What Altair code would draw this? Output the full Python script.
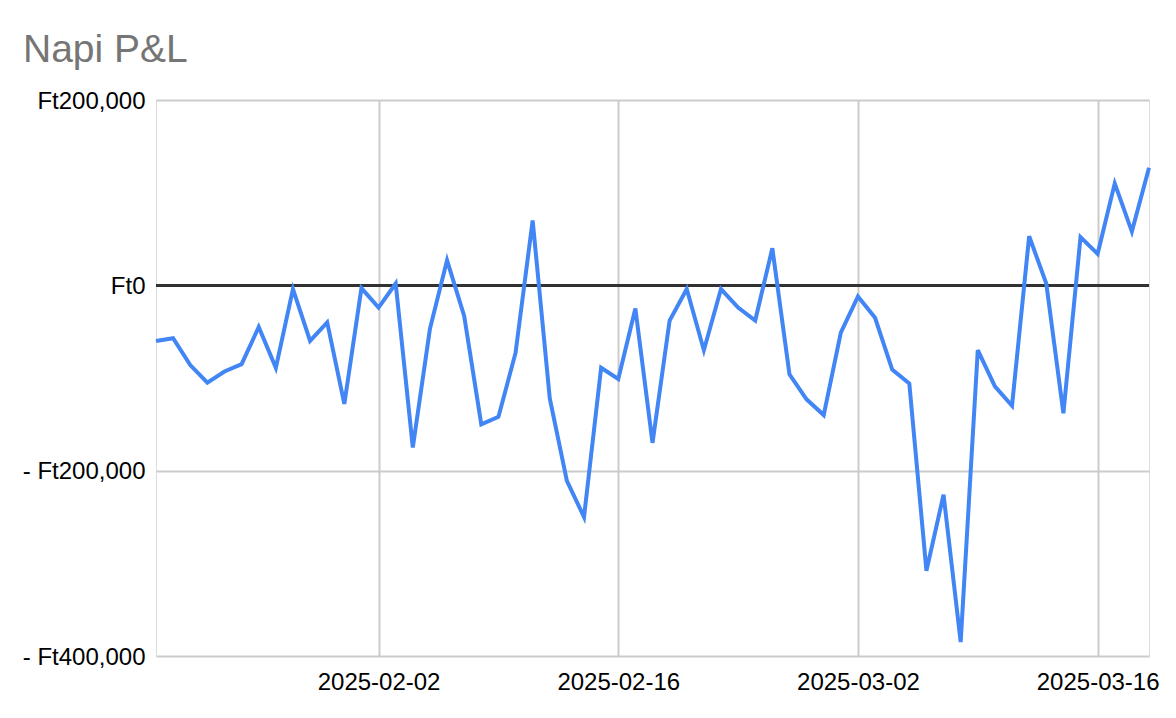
import altair as alt
import pandas as pd

FONT = "Liberation Sans"

# Daily dates (2025-01-20 .. 2025-03-19)
dates = pd.date_range("2025-01-20", "2025-03-19", freq="D").strftime("%Y-%m-%d").tolist()

# Daily P&L in forint
pnl = [
    -60000, -57000, -86000, -105000, -93000, -85000, -45000, -89000, -4000, -60000,
    -40000, -128000,                                   # Jan 20 - Jan 31
    -3000, -24000, 2000, -175000, -47000, 27000, -33000, -150000, -142000, -73000,
    70000, -122000, -211000, -250000, -89000, -101000, -25000, -170000, -38000, -4000,
    -70000, -4000, -24000, -38000, 40000, -96000, -123000, -140000,   # Feb
    -51000, -12000, -35000, -91000, -106000, -308000, -226000, -385000, -70000, -109000,
    -130000, 53000, 2000, -138000, 52000, 34000, 110000, 58000, 127000,  # Mar 1 - Mar 19
]

y_ticks = [-400000, -200000, 0, 200000]
x_ticks = [(2025, 2, 2), (2025, 2, 16), (2025, 3, 2), (2025, 3, 16)]

df = pd.DataFrame({"date": dates, "pnl": pnl})

x_enc = alt.X(
    "date:T",
    scale=alt.Scale(
        type="utc",
        domain=[alt.DateTime(year=2025, month=1, date=20, utc=True),
                alt.DateTime(year=2025, month=3, date=19, utc=True)],
        nice=False,
    ),
    axis=alt.Axis(
        values=[alt.DateTime(year=a, month=b, date=c, utc=True) for a, b, c in x_ticks],
        format="%Y-%m-%d",
        title=None,
        domain=False,
        ticks=False,
        grid=True,
        gridColor="#cccccc",
        gridWidth=2,
        labelFont=FONT,
        labelFontSize=24,
        labelColor="#000000",
        labelPadding=14,
    ),
)

y_enc = alt.Y(
    "pnl:Q",
    scale=alt.Scale(domain=[-400000, 200000], nice=False, zero=False),
    axis=alt.Axis(
        values=y_ticks,
        labelExpr="datum.value < 0 ? '- Ft' + format(-datum.value, ',') : 'Ft' + format(datum.value, ',')",
        title=None,
        domain=False,
        ticks=False,
        grid=True,
        gridColor="#cccccc",
        gridWidth=2,
        labelFont=FONT,
        labelFontSize=24,
        labelColor="#000000",
        labelPadding=11,
        labelBaseline="middle",
        labelOffset=1,
    ),
)

base = alt.Chart(df)

zero = base.mark_rule(color="#333333", strokeWidth=2).encode(y=alt.datum(0))

line = base.mark_line(
    color="#4285F4", strokeWidth=4, strokeJoin="miter", strokeCap="butt"
).encode(x=x_enc, y=y_enc)

chart = alt.layer(zero, line).properties(
    width=993,
    height=556,
    title=alt.TitleParams(
        "Napi P&L",
        anchor="start",
        frame="group",
        fontSize=39,
        font=FONT,
        fontWeight="normal",
        color="#757575",
        dx=-133,
        offset=19,
    ),
    autosize=alt.AutoSizeParams(type="none"),
    padding={"left": 148, "top": 92, "right": 19, "bottom": 54},
).configure_view(stroke=None).configure(background="white")

chart.save("out.html", embed_options={"renderer": "svg", "actions": False})
